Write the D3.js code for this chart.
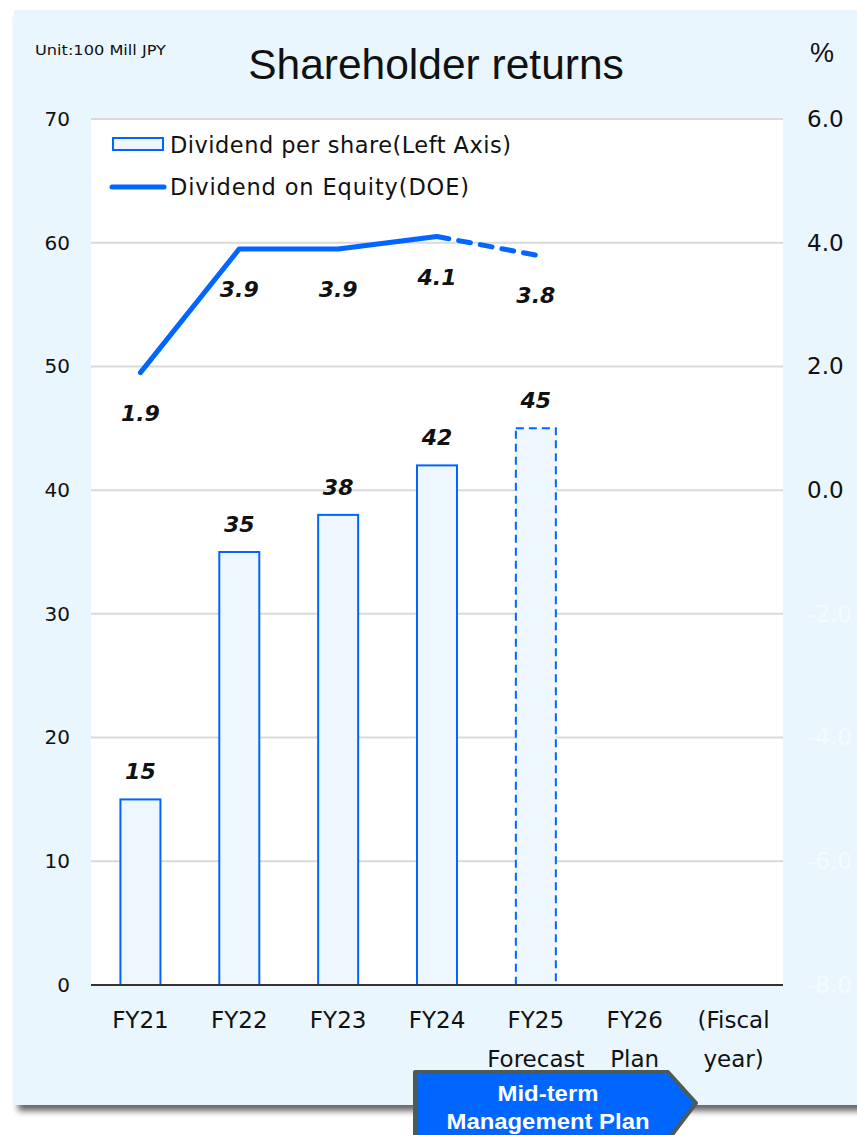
<!DOCTYPE html>
<html><head><meta charset="utf-8">
<script src="https://cdn.jsdelivr.net/npm/d3@7"></script>
<style>body{margin:0;background:#fff;}svg{display:block;}</style>
</head><body>
<script>
const categories = ["FY21","FY22","FY23","FY24","FY25","FY26","(Fiscal"];
const categories2 = ["","","","","Forecast","Plan","year)"];
const dividend = [15,35,38,42,45,null,null];
const doe = [1.9,3.9,3.9,4.1,3.8,null,null];
const leftTicks = [0,10,20,30,40,50,60,70];
const rightTicks = [-8,-6,-4,-2,0,2,4,6];

const W=857,H=1135;
const svg=d3.select("body").append("svg").attr("width",W).attr("height",H);
const defs=svg.append("defs");
const f=defs.append("filter").attr("id","sh").attr("x","-5%").attr("y","-5%").attr("width","110%").attr("height","115%");
f.append("feGaussianBlur").attr("in","SourceAlpha").attr("stdDeviation",3);
f.append("feOffset").attr("dx",4).attr("dy",6).attr("result","ob");
f.append("feComponentTransfer").append("feFuncA").attr("type","linear").attr("slope",0.6);
const fm=f.append("feMerge");fm.append("feMergeNode");fm.append("feMergeNode").attr("in","SourceGraphic");

svg.append("rect").attr("x",14).attr("y",10).attr("width",W).attr("height",1095).attr("fill","#eaf6fd").attr("filter","url(#sh)");

const m={l:91,r:783,t:119,b:985};
svg.append("rect").attr("x",m.l).attr("y",m.t).attr("width",m.r-m.l).attr("height",m.b-m.t).attr("fill","#fff");

const x=d3.scaleBand().domain(categories).range([m.l,m.r]).paddingInner(0).paddingOuter(0);
const yL=d3.scaleLinear().domain([0,70]).range([m.b,m.t]);
const yR=d3.scaleLinear().domain([-8,6]).range([m.b,m.t]);
const font="DejaVu Sans, Verdana, sans-serif";
const fmt1=d=>d3.format(".1f")(d).replace("\u2212","-");

// grid
svg.append("g").selectAll("line").data(leftTicks.filter(d=>d>0)).join("line")
 .attr("x1",m.l).attr("x2",m.r).attr("y1",d=>yL(d)).attr("y2",d=>yL(d)).attr("stroke","#d9d9d9").attr("stroke-width",2);

// left axis
const gl=svg.append("g").attr("transform",`translate(${m.l},0)`).call(d3.axisLeft(yL).tickValues(leftTicks).tickSize(0).tickPadding(21));
gl.select(".domain").remove();
gl.selectAll("text").attr("font-family",font).attr("font-size",20).attr("fill","#111");
// right axis
const gr=svg.append("g").attr("transform",`translate(${m.r},0)`).call(d3.axisRight(yR).tickValues(rightTicks).tickFormat(fmt1).tickSize(0).tickPadding(24));
gr.select(".domain").remove();
gr.selectAll("text").attr("font-family",font).attr("font-size",23).attr("fill",d=>d>=0?"#111":"#f4fbff");

// bars
const bw=40;
const bars=svg.append("g");
categories.forEach((c,i)=>{
  const v=dividend[i]; if(v==null) return;
  const cx=x(c)+x.bandwidth()/2;
  bars.append("rect").attr("x",cx-bw/2).attr("y",yL(v)).attr("width",bw).attr("height",yL(0)-yL(v))
   .attr("fill","#eef7ff").attr("stroke","#0066ff").attr("stroke-width",2)
   .attr("stroke-dasharray",i===4?"8,5":null);
  bars.append("text").attr("x",cx).attr("y",yL(v)-20).attr("text-anchor","middle")
   .attr("font-family",font).attr("font-weight","bold").attr("font-style","italic").attr("font-size",22).attr("fill","#111").text(v);
});

// zero axis line
svg.append("line").attr("x1",m.l).attr("x2",m.r).attr("y1",yL(0)).attr("y2",yL(0)).attr("stroke","#333").attr("stroke-width",2);

// line
const pts=doe.map((v,i)=>v==null?null:[x(categories[i])+x.bandwidth()/2,yR(v)]).filter(p=>p);
const line=d3.line();
svg.append("path").attr("d",line(pts.slice(0,4))).attr("fill","none").attr("stroke","#0066ff").attr("stroke-width",5).attr("stroke-linecap","round").attr("stroke-linejoin","round");
svg.append("path").attr("d",line(pts.slice(3,5))).attr("fill","none").attr("stroke","#0066ff").attr("stroke-width",5).attr("stroke-dasharray","12,10").attr("stroke-linecap","round");
doe.forEach((v,i)=>{ if(v==null) return;
  svg.append("text").attr("x",x(categories[i])+x.bandwidth()/2).attr("y",yR(v)+48).attr("text-anchor","middle")
   .attr("font-family",font).attr("font-weight","bold").attr("font-style","italic").attr("font-size",22).attr("fill","#111").text(fmt1(v));
});

// x labels
categories.forEach((c,i)=>{
  const cx=x(c)+x.bandwidth()/2;
  svg.append("text").attr("x",cx).attr("y",1028).attr("text-anchor","middle").attr("font-family",font).attr("font-size",23).attr("fill","#111").text(c);
  if(categories2[i]) svg.append("text").attr("x",cx).attr("y",1067).attr("text-anchor","middle").attr("font-family",font).attr("font-size",23).attr("fill","#111").text(categories2[i]);
});

// legend
svg.append("rect").attr("x",113).attr("y",138).attr("width",50).attr("height",12).attr("fill","#eef7ff").attr("stroke","#0066ff").attr("stroke-width",2);
svg.append("text").attr("x",170).attr("y",153).attr("font-family",font).attr("font-size",22.5).attr("fill","#111")
  .attr("textLength",341).attr("lengthAdjust","spacing").text("Dividend per share(Left Axis)");
svg.append("line").attr("x1",112).attr("x2",164).attr("y1",187).attr("y2",187).attr("stroke","#0066ff").attr("stroke-width",5).attr("stroke-linecap","round");
svg.append("text").attr("x",170).attr("y",195).attr("font-family",font).attr("font-size",22.5).attr("fill","#111")
  .attr("textLength",299).attr("lengthAdjust","spacing").text("Dividend on Equity(DOE)");

// titles
svg.append("text").attr("x",436).attr("y",79).attr("text-anchor","middle").attr("font-family","Liberation Sans, Arial, sans-serif").attr("font-size",42.5).attr("fill","#111").text("Shareholder returns");
svg.append("text").attr("x",35).attr("y",55).attr("font-family",font).attr("font-size",14).attr("fill","#111")
  .attr("textLength",131).attr("lengthAdjust","spacingAndGlyphs").text("Unit:100 Mill JPY");
svg.append("text").attr("x",822).attr("y",62).attr("text-anchor","middle").attr("font-family","Liberation Sans, Arial, sans-serif").attr("font-size",27).attr("fill","#111").text("%");

// mid-term arrow
const ag=svg.append("g");
ag.append("path").attr("d","M415,1072 L668,1072 L696,1103 L668,1140 L415,1140 Z").attr("fill","#0066ff").attr("stroke","#4d5a5a").attr("stroke-width",4).attr("stroke-linejoin","round");
ag.append("text").attr("x",548).attr("y",1101).attr("text-anchor","middle").attr("font-family","Liberation Sans, Arial, sans-serif").attr("font-weight","bold").attr("font-size",22).attr("fill","#fff")
  .attr("textLength",101).attr("lengthAdjust","spacingAndGlyphs").text("Mid-term");
ag.append("text").attr("x",548).attr("y",1129).attr("text-anchor","middle").attr("font-family","Liberation Sans, Arial, sans-serif").attr("font-weight","bold").attr("font-size",22).attr("fill","#fff")
  .attr("textLength",203).attr("lengthAdjust","spacingAndGlyphs").text("Management Plan");
</script>
</body></html>
